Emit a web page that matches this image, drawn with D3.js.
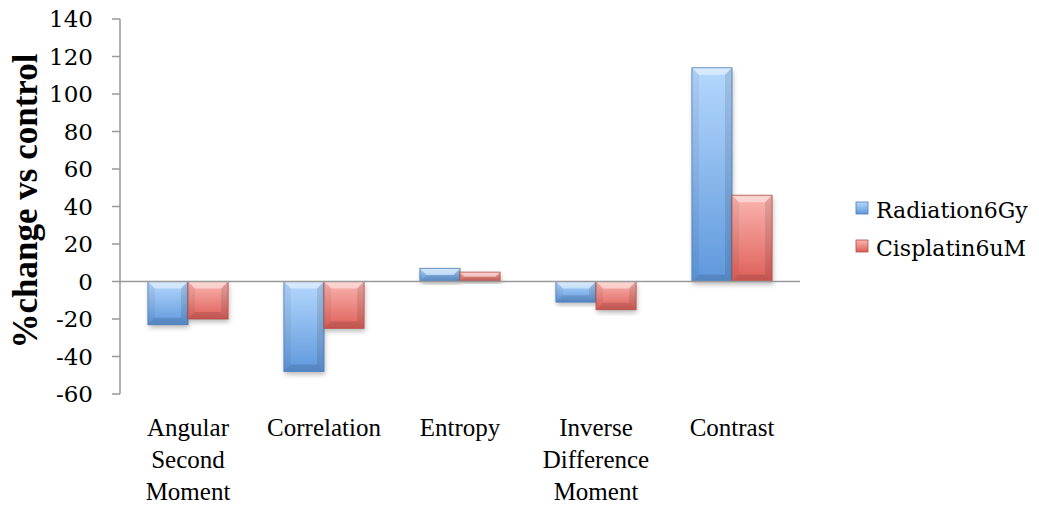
<!DOCTYPE html>
<html>
<head>
<meta charset="utf-8">
<script src="https://cdn.jsdelivr.net/npm/d3@7/dist/d3.min.js"></script>
<style>
  html, body { margin: 0; padding: 0; background: #fff; }
  svg { display: block; }
</style>
</head>
<body>
<svg id="chart" width="1039" height="506"></svg>
<script>
const categories = [
  ["Angular", "Second", "Moment"],
  ["Correlation"],
  ["Entropy"],
  ["Inverse", "Difference", "Moment"],
  ["Contrast"]
];
const seriesNames = ["Radiation6Gy", "Cisplatin6uM"];
const radiation = [-23, -48, 7, -11, 114];
const cisplatin = [-20, -25, 5, -15, 46];
const yTicks = [-60, -40, -20, 0, 20, 40, 60, 80, 100, 120, 140];

(function () {
const svg = d3.select("#chart");
const mLeft = 120, mRight = 800, mTop = 19, mBottom = 394;

const catKeys = categories.map((c, i) => "c" + i);
const x0 = d3.scaleBand().domain(catKeys).range([mLeft, mRight]).paddingInner(0.41).paddingOuter(0.205);
const x1 = d3.scaleBand().domain(seriesNames).range([0, x0.bandwidth()]);
const y = d3.scaleLinear().domain([-60, 140]).range([mBottom, mTop]);

const palette = {
  "Radiation6Gy": { top: "#b5d8fd", bot: "#5f98dc", stroke: "#4a7cb8" },
  "Cisplatin6uM": { top: "#fab5b0", bot: "#de5f59", stroke: "#b44c47" }
};

const defs = svg.append("defs");
seriesNames.forEach((s, i) => {
  const p = palette[s];
  const g = defs.append("linearGradient").attr("id", "grad" + i).attr("x1", 0).attr("y1", 0).attr("x2", 0).attr("y2", 1);
  g.append("stop").attr("offset", "0%").attr("stop-color", p.top);
  g.append("stop").attr("offset", "100%").attr("stop-color", p.bot);
});
const f = defs.append("filter").attr("id", "shadow").attr("x", "-20%").attr("y", "-20%").attr("width", "140%").attr("height", "140%");
f.append("feDropShadow").attr("dx", 1).attr("dy", 3).attr("stdDeviation", 2.5).attr("flood-color", "#000").attr("flood-opacity", 0.28);

// y axis
const yAxis = svg.append("g").attr("transform", `translate(${mLeft},0)`);
yAxis.append("line").attr("x1", 0).attr("x2", 0).attr("y1", y(140)).attr("y2", y(-60)).attr("stroke", "#999").attr("stroke-width", 1.5);
yAxis.selectAll(".tick").data(yTicks).enter().append("line")
  .attr("x1", -8).attr("x2", 0).attr("y1", d => y(d)).attr("y2", d => y(d))
  .attr("stroke", "#999").attr("stroke-width", 1.5);
yAxis.selectAll(".lbl").data(yTicks).enter().append("text")
  .attr("x", -27).attr("y", d => y(d)).attr("dy", "0.36em")
  .attr("text-anchor", "end")
  .attr("font-family", "DejaVu Serif").attr("font-size", 23).attr("fill", "#000")
  .text(d => d);

// bars
const data = [];
categories.forEach((c, i) => {
  data.push({ cat: catKeys[i], s: seriesNames[0], si: 0, v: radiation[i] });
  data.push({ cat: catKeys[i], s: seriesNames[1], si: 1, v: cisplatin[i] });
});

const bars = svg.append("g");
data.forEach(d => {
  const bx = x0(d.cat) + x1(d.s);
  const bw = x1.bandwidth();
  const yt = Math.min(y(d.v), y(0));
  const bh = Math.abs(y(d.v) - y(0));
  const g = bars.append("g");
  g.append("rect").attr("x", bx).attr("y", yt).attr("width", bw).attr("height", bh)
    .attr("fill", `url(#grad${d.si})`).attr("filter", "url(#shadow)");
  const b = Math.min(7, bh / 2);
  const x2 = bx + bw, y2 = yt + bh;
  g.append("polygon").attr("points", [[bx, yt], [x2, yt], [x2 - b, yt + b], [bx + b, yt + b]].join(" "))
    .attr("fill", "#fff").attr("opacity", 0.45);
  g.append("polygon").attr("points", [[bx, yt], [bx + b, yt + b], [bx + b, y2 - b], [bx, y2]].join(" "))
    .attr("fill", "#000").attr("opacity", 0.05);
  g.append("polygon").attr("points", [[x2, yt], [x2 - b, yt + b], [x2 - b, y2 - b], [x2, y2]].join(" "))
    .attr("fill", "#000").attr("opacity", 0.1);
  g.append("polygon").attr("points", [[bx, y2], [bx + b, y2 - b], [x2 - b, y2 - b], [x2, y2]].join(" "))
    .attr("fill", "#000").attr("opacity", 0.12);
  g.append("rect").attr("x", bx).attr("y", yt).attr("width", bw).attr("height", bh)
    .attr("fill", "none").attr("stroke", palette[d.s].stroke).attr("stroke-width", 1).attr("stroke-opacity", 0.8);
});

// zero line
svg.append("line").attr("x1", mLeft).attr("x2", mRight).attr("y1", y(0)).attr("y2", y(0))
  .attr("stroke", "#999").attr("stroke-width", 1.5);

// x labels
const xl = svg.append("g");
categories.forEach((lines, i) => {
  const cx = x0(catKeys[i]) + x0.bandwidth() / 2;
  const t = xl.append("text").attr("text-anchor", "middle")
    .attr("font-family", "Liberation Serif").attr("font-size", 25).attr("fill", "#000");
  lines.forEach((ln, j) => {
    t.append("tspan").attr("x", cx).attr("y", 436 + j * 32).text(ln);
  });
});

// y title
svg.append("text").attr("transform", "translate(37,201) rotate(-90)")
  .attr("text-anchor", "middle")
  .attr("font-family", "Liberation Serif").attr("font-weight", "bold").attr("font-size", 35).attr("fill", "#000")
  .text("%change vs control");

// legend
const lg = svg.append("g");
seriesNames.forEach((s, i) => {
  const yy = 202 + i * 38;
  lg.append("rect").attr("x", 856).attr("y", yy).attr("width", 12).attr("height", 12)
    .attr("fill", `url(#grad${i})`).attr("stroke", palette[s].stroke).attr("stroke-width", 0.8);
  lg.append("text").attr("x", 876).attr("y", yy + 16)
    .attr("font-family", "DejaVu Serif").attr("font-size", 22).attr("fill", "#000")
    .text(s);
});
})();
</script>
</body>
</html>
